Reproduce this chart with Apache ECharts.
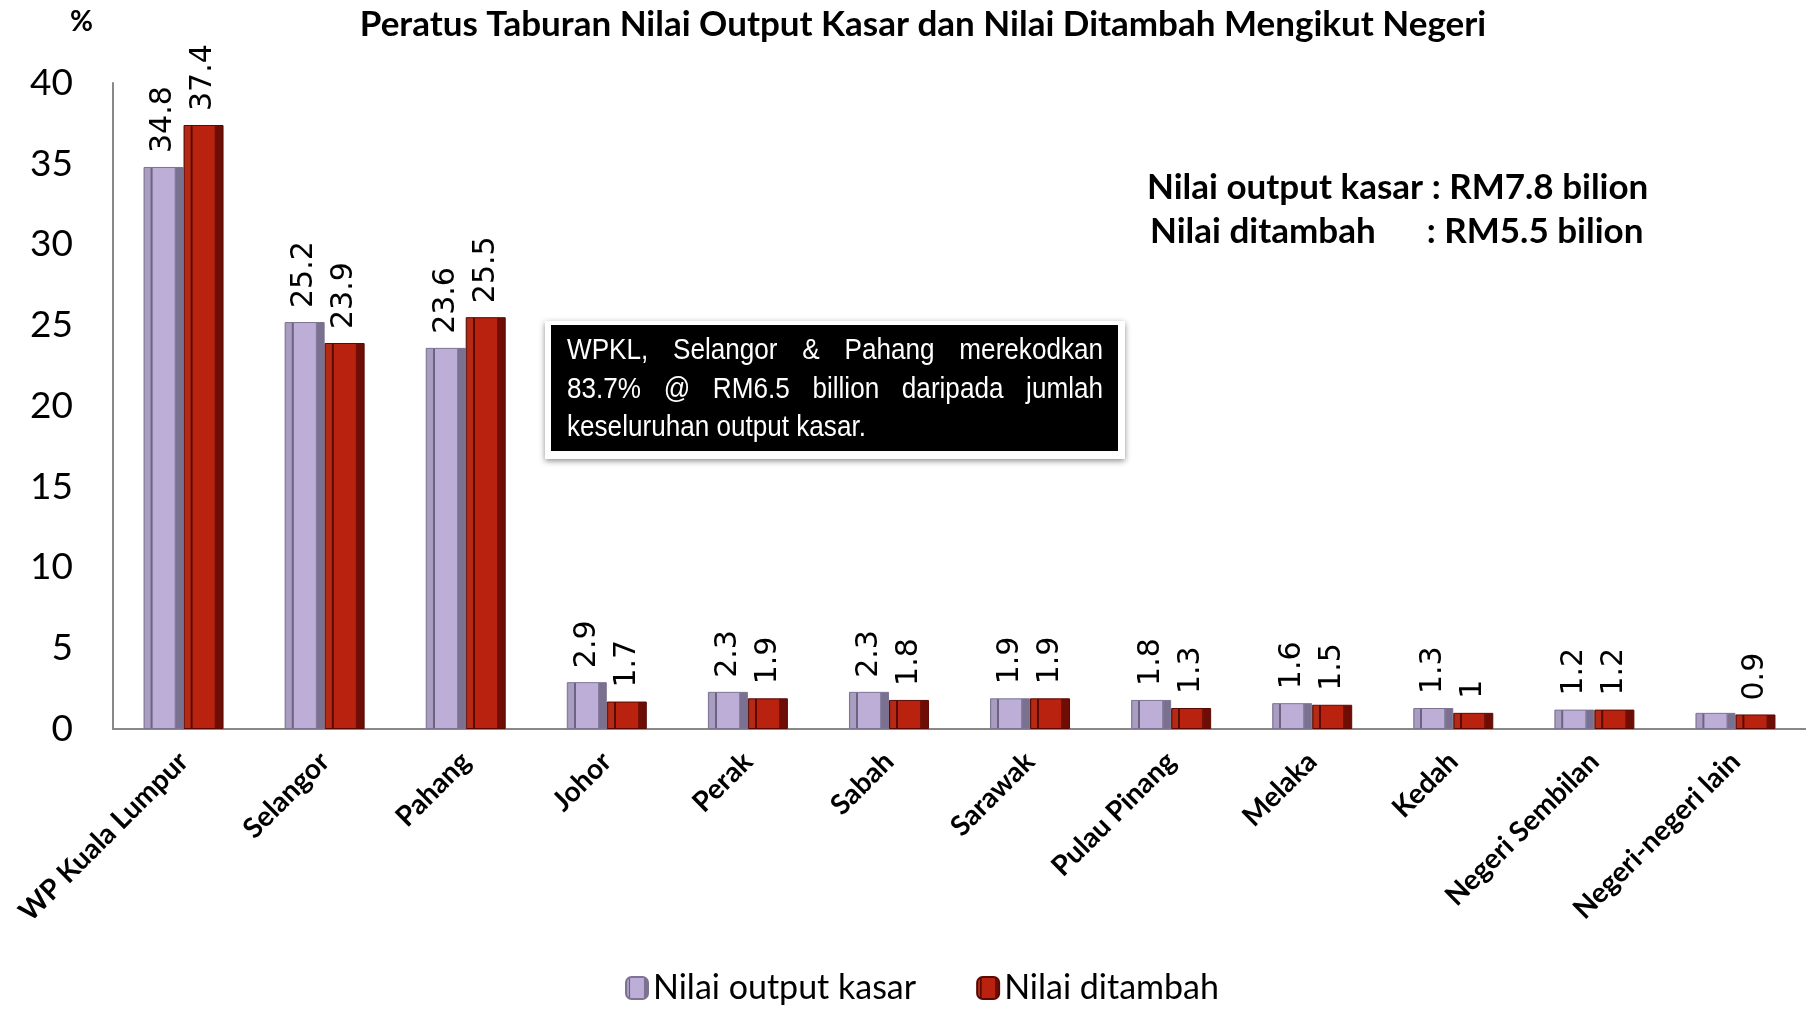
<!DOCTYPE html>
<html>
<head>
<meta charset="utf-8">
<script src="https://cdn.jsdelivr.net/npm/echarts@6/dist/echarts.min.js"></script>
<style>
  html, body { margin: 0; padding: 0; background: #fff; }
  #chart { width: 1806px; height: 1010px; }
</style>
</head>
<body>
<div id="chart"></div>
<script>
// data
var negeri = ["WP Kuala Lumpur", "Selangor", "Pahang", "Johor", "Perak", "Sabah",
  "Sarawak", "Pulau Pinang", "Melaka", "Kedah", "Negeri Sembilan", "Negeri-negeri lain"];
var outputKasar = [34.8, 25.2, 23.6, 2.9, 2.3, 2.3, 1.9, 1.8, 1.6, 1.3, 1.2, 1.0];
var nilaiDitambah = [37.4, 23.9, 25.5, 1.7, 1.9, 1.8, 1.9, 1.3, 1.5, 1, 1.2, 0.9];
// last purple bar has no label in the original
var labelOutput = [true, true, true, true, true, true, true, true, true, true, true, false];

var noteLines = [
  "WPKL, Selangor & Pahang merekodkan",
  "83.7% @ RM6.5 billion daripada jumlah",
  "keseluruhan output kasar."
];

var calibri = "Lato, 'Open Sans', sans-serif";

// fake bevel: edge / light ridge / dark groove / face / groove / dark edge
function bevel(edge, ridge, groove, face, shade) {
  return {
    type: "linear", x: 0, y: 0, x2: 1, y2: 0,
    colorStops: [
      { offset: 0, color: edge },
      { offset: 0.05, color: ridge },
      { offset: 0.17, color: ridge },
      { offset: 0.18, color: groove },
      { offset: 0.22, color: groove },
      { offset: 0.23, color: face },
      { offset: 0.77, color: face },
      { offset: 0.78, color: edge },
      { offset: 0.82, color: shade },
      { offset: 1, color: shade }
    ]
  };
}

// justified note text (like the text box in the original), one text per word
function justifiedText(lines, x0, width, y0, lineHeight, fontSize, sx) {
  var ctx = document.createElement("canvas").getContext("2d");
  ctx.font = fontSize + "px 'Liberation Sans'";
  var out = [];
  lines.forEach(function (line, li) {
    var words = line.split(" ");
    var widths = words.map(function (w) { return ctx.measureText(w).width * sx; });
    var total = widths.reduce(function (a, b) { return a + b; }, 0);
    var last = li === lines.length - 1;
    var gap = last ? ctx.measureText(" ").width * sx : (width - total) / (words.length - 1);
    var x = x0;
    words.forEach(function (w, wi) {
      out.push({
        type: "text",
        x: x,
        y: y0 + li * lineHeight,
        scaleX: sx,
        style: {
          text: w,
          fontFamily: "'Liberation Sans', sans-serif",
          fontSize: fontSize,
          fill: "#fff",
          verticalAlign: "middle"
        }
      });
      x += widths[wi] + gap;
    });
  });
  return out;
}

var dataLabel = {
  show: true,
  position: "top",
  rotate: 90,
  align: "left",
  verticalAlign: "middle",
  distance: 14,
  fontFamily: "'DejaVu Sans', sans-serif",
  fontSize: 30,
  color: "#000"
};

var graphics = [
  {
    type: "text",
    left: 70,
    top: 8,
    style: { text: "%", fontFamily: calibri, fontWeight: "bold", fontSize: 28, fill: "#000" }
  },
  {
    type: "text",
    left: 1147,
    top: 170,
    style: {
      text: "Nilai output kasar : RM7.8 bilion",
      fontFamily: calibri, fontWeight: "bold", fontSize: 35, fill: "#000"
    }
  },
  {
    type: "text",
    left: 1150,
    top: 214,
    style: {
      text: "Nilai ditambah      : RM5.5 bilion",
      fontFamily: calibri, fontWeight: "bold", fontSize: 35, fill: "#000"
    }
  },
  {
    type: "rect",
    left: 545,
    top: 321,
    shape: { width: 580, height: 138 },
    style: { fill: "#fff", shadowBlur: 6, shadowColor: "rgba(0,0,0,0.45)", shadowOffsetY: 2 }
  },
  {
    type: "rect",
    left: 551,
    top: 325,
    shape: { width: 567, height: 126 },
    style: { fill: "#000" }
  }
].concat(justifiedText(noteLines, 567, 536, 351, 38.5, 29, 0.9));

var chart = echarts.init(document.getElementById("chart"));
chart.setOption({
  animation: false,
  title: {
    text: "Peratus Taburan Nilai Output Kasar dan Nilai Ditambah Mengikut Negeri",
    left: 918,
    textAlign: "center",
    top: 2,
    textStyle: { fontFamily: calibri, fontWeight: "bold", fontSize: 35, color: "#000" }
  },
  legend: {
    bottom: 0,
    left: 620,
    itemWidth: 22,
    itemHeight: 22,
    itemGap: 60,
    textStyle: { fontFamily: calibri, fontSize: 34, color: "#000" },
    data: ["Nilai output kasar", "Nilai ditambah"]
  },
  grid: { left: 113, top: 83, width: 1703, height: 646 },
  xAxis: {
    type: "category",
    data: negeri,
    axisTick: { show: false },
    axisLine: { lineStyle: { color: "#888", width: 2 } },
    axisLabel: {
      interval: 0,
      rotate: 45,
      margin: 28,
      fontFamily: calibri,
      fontWeight: "bold",
      fontSize: 28,
      color: "#000"
    }
  },
  yAxis: {
    type: "value",
    min: 0,
    max: 40,
    interval: 5,
    splitLine: { show: false },
    axisTick: { show: false },
    axisLine: { show: true, lineStyle: { color: "#888", width: 2 } },
    axisLabel: { fontFamily: calibri, fontSize: 37, color: "#000", margin: 40 }
  },
  series: [
    {
      name: "Nilai output kasar",
      type: "bar",
      barWidth: 40,
      barGap: "0%",
      itemStyle: {
        color: bevel("#8c82a3", "#a99dc2", "#6c6380", "#bcaed6", "#7a7090"),
        borderColor: "#7d7494",
        borderWidth: 1
      },
      data: outputKasar.map(function (v, i) {
        return { value: v, label: { show: labelOutput[i] } };
      }),
      label: dataLabel
    },
    {
      name: "Nilai ditambah",
      type: "bar",
      barWidth: 40,
      itemStyle: {
        color: bevel("#7a1206", "#b52a14", "#5a0a03", "#b8220f", "#6e0d05"),
        borderColor: "#5a0a03",
        borderWidth: 1
      },
      data: nilaiDitambah,
      label: dataLabel
    }
  ],
  graphic: graphics
});
</script>
</body>
</html>
